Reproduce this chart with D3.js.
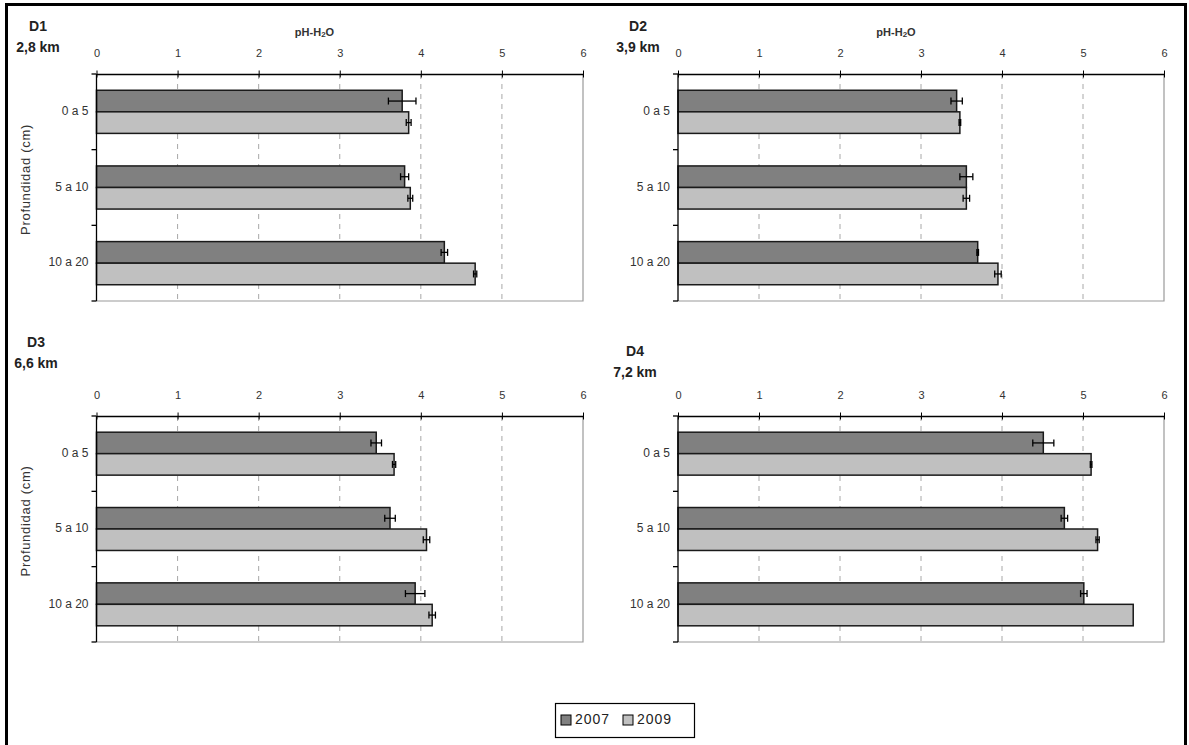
<!DOCTYPE html>
<html>
<head>
<meta charset="utf-8">
<script src="https://cdn.jsdelivr.net/npm/d3@7"></script>
<style>
  html, body { margin: 0; padding: 0; background: #fff; }
  svg { display: block; }
  text { font-family: "Liberation Sans", Arial, sans-serif; }
</style>
</head>
<body>
<svg id="chart" width="1189" height="745"></svg>
<script>
// ---------------- data ----------------
const depths = ["0 a 5", "5 a 10", "10 a 20"];
const years = ["2007", "2009"];
const panelNames = ["D1", "D2", "D3", "D4"];
const distances = ["2,8 km", "3,9 km", "6,6 km", "7,2 km"];
const xTicks = [0, 1, 2, 3, 4, 5, 6];

const d1_2007 = [3.77, 3.80, 4.29];
const d1_2009 = [3.85, 3.87, 4.67];
const d2_2007 = [3.44, 3.56, 3.70];
const d2_2009 = [3.48, 3.56, 3.95];
const d3_2007 = [3.45, 3.62, 3.93];
const d3_2009 = [3.67, 4.07, 4.14];
const d4_2007 = [4.51, 4.77, 5.01];
const d4_2009 = [5.10, 5.18, 5.62];

const e1_2007 = [0.17, 0.05, 0.04];
const e1_2009 = [0.03, 0.03, 0.02];
const e2_2007 = [0.07, 0.08, 0.01];
const e2_2009 = [0.01, 0.04, 0.04];
const e3_2007 = [0.065, 0.065, 0.12];
const e3_2009 = [0.02, 0.04, 0.04];
const e4_2007 = [0.13, 0.04, 0.04];
const e4_2009 = [0.01, 0.02, 0.0];

const values = [[d1_2007, d1_2009], [d2_2007, d2_2009], [d3_2007, d3_2009], [d4_2007, d4_2009]];
const errors = [[e1_2007, e1_2009], [e2_2007, e2_2009], [e3_2007, e3_2009], [e4_2007, e4_2009]];

// ---------------- layout ----------------
const svg = d3.select("#chart");
const colors = { "2007": "#808080", "2009": "#c0c0c0" };

// outer frame
svg.append("path")
  .attr("d", "M6.5,748 L6.5,4.5 L1185.5,4.5 L1185.5,748")
  .attr("fill", "none").attr("stroke", "#000").attr("stroke-width", 3);

const panelLayout = [
  { x0: 96.5, x1: 583, y0: 74, y1: 301, titleX: 38, titleY: 27, ylabel: true, xlabel: true },
  { x0: 678, x1: 1164, y0: 74, y1: 301, titleX: 638, titleY: 27, ylabel: false, xlabel: true },
  { x0: 96.5, x1: 583, y0: 416, y1: 642, titleX: 36, titleY: 343, ylabel: true, xlabel: false },
  { x0: 678, x1: 1164, y0: 416, y1: 642, titleX: 635, titleY: 352, ylabel: false, xlabel: false }
];

panelLayout.forEach((L, pi) => {
  const g = svg.append("g");
  const x = d3.scaleLinear().domain([0, 6]).range([L.x0, L.x1]);
  const y = d3.scaleBand().domain(depths).range([L.y0, L.y1]).paddingInner(0.43).paddingOuter(0.215);
  const yy = d3.scaleBand().domain(years).range([0, y.bandwidth()]);

  // plot area border (right, bottom)
  g.append("path")
    .attr("d", `M${L.x1},${L.y0} L${L.x1},${L.y1} L${L.x0},${L.y1}`)
    .attr("fill", "none").attr("stroke", "#9a9a9a").attr("stroke-width", 1.2);

  // grid lines
  g.selectAll(".grid").data(xTicks.filter(t => t > 0 && t < 6)).join("line")
    .attr("x1", d => x(d)).attr("x2", d => x(d))
    .attr("y1", L.y0).attr("y2", L.y1)
    .attr("stroke", "#a8a8a8").attr("stroke-width", 1).attr("stroke-dasharray", "5,5");

  // bars
  depths.forEach((dep, di) => {
    years.forEach((yr, yi) => {
      const v = values[pi][yi][di];
      const e = errors[pi][yi][di];
      const by = y(dep) + yy(yr);
      g.append("rect")
        .attr("x", x(0)).attr("y", by)
        .attr("width", x(v) - x(0)).attr("height", yy.bandwidth())
        .attr("fill", colors[yr]).attr("stroke", "#1a1a1a").attr("stroke-width", 1.5);
      if (e > 0) {
        const cy = by + yy.bandwidth() / 2;
        const eg = g.append("g").attr("stroke", "#000").attr("stroke-width", 1.3);
        eg.append("line").attr("x1", x(v - e)).attr("x2", x(v + e)).attr("y1", cy).attr("y2", cy);
        eg.append("line").attr("x1", x(v - e)).attr("x2", x(v - e)).attr("y1", cy - 3.5).attr("y2", cy + 3.5);
        eg.append("line").attr("x1", x(v + e)).attr("x2", x(v + e)).attr("y1", cy - 3.5).attr("y2", cy + 3.5);
      }
    });
  });

  // top x axis
  const xa = g.append("g").attr("transform", `translate(0,${L.y0})`)
    .call(d3.axisTop(x).tickValues(xTicks).tickFormat(d3.format("d")).tickSizeInner(3).tickSizeOuter(0).tickPadding(14));
  xa.select(".domain").attr("stroke", "#000").attr("stroke-width", 1.3);
  xa.selectAll(".tick line").attr("stroke", "#000").attr("y2", -3.5).attr("y1", 3.5);
  xa.selectAll(".tick text").attr("font-size", 11).attr("fill", "#333")
    .attr("font-family", "'Liberation Sans', Arial, sans-serif");

  // left y axis with ticks at band boundaries
  g.append("line").attr("x1", L.x0).attr("x2", L.x0).attr("y1", L.y0).attr("y2", L.y1)
    .attr("stroke", "#000").attr("stroke-width", 1.3);
  const step = y.step();
  const bounds = d3.range(depths.length + 1).map(i => L.y0 + i * step);
  g.selectAll(".ytick").data(bounds).join("line")
    .attr("x1", L.x0 - 5).attr("x2", L.x0).attr("y1", d => d).attr("y2", d => d)
    .attr("stroke", "#000").attr("stroke-width", 1.3);

  // category labels
  g.selectAll(".cat").data(depths).join("text")
    .attr("x", L.x0 - 8).attr("y", d => y(d) + y.bandwidth() / 2)
    .attr("text-anchor", "end").attr("dominant-baseline", "middle")
    .attr("font-size", 12).attr("fill", "#333")
    .text(d => d);

  // y-axis title
  if (L.ylabel) {
    g.append("text")
      .attr("transform", `translate(27,${(L.y0 + L.y1) / 2 - 8}) rotate(-90)`)
      .attr("text-anchor", "middle").attr("dominant-baseline", "middle")
      .attr("font-size", 13).attr("letter-spacing", 0.7).attr("fill", "#333")
      .text("Profundidad (cm)");
  }

  // x-axis title
  if (L.xlabel) {
    const t = g.append("text")
      .attr("x", x(0) + 218).attr("y", 33)
      .attr("text-anchor", "middle").attr("dominant-baseline", "middle")
      .attr("font-size", 11).attr("font-weight", "bold").attr("fill", "#333");
    t.append("tspan").text("pH-H");
    t.append("tspan").attr("font-size", 8).attr("dy", 2).text("2");
    t.append("tspan").attr("dy", -2).text("O");
  }

  // panel title
  const tt = g.append("text").attr("x", L.titleX).attr("y", L.titleY)
    .attr("text-anchor", "middle").attr("font-size", 14).attr("font-weight", "bold").attr("fill", "#222")
    .attr("font-family", "'Open Sans', 'Liberation Sans', sans-serif");
  tt.append("tspan").attr("x", L.titleX).attr("dy", 0).attr("dominant-baseline", "middle").text(panelNames[pi]);
  tt.append("tspan").attr("x", L.titleX).attr("dy", 21).attr("dominant-baseline", "middle").text(distances[pi]);
});

// legend
const lg = svg.append("g");
lg.append("rect").attr("x", 555.5).attr("y", 703.5).attr("width", 139).attr("height", 34)
  .attr("fill", "#fff").attr("stroke", "#000").attr("stroke-width", 1.2);
const lx = d3.scalePoint().domain(years).range([561, 623]);
years.forEach(yr => {
  lg.append("rect").attr("x", lx(yr)).attr("y", 715).attr("width", 10).attr("height", 10)
    .attr("fill", colors[yr]).attr("stroke", "#000").attr("stroke-width", 1);
  lg.append("text").attr("x", lx(yr) + 14).attr("y", 720.5).attr("dominant-baseline", "middle")
    .attr("font-size", 14).attr("letter-spacing", 1).attr("fill", "#222").text(yr);
});
</script>
</body>
</html>
